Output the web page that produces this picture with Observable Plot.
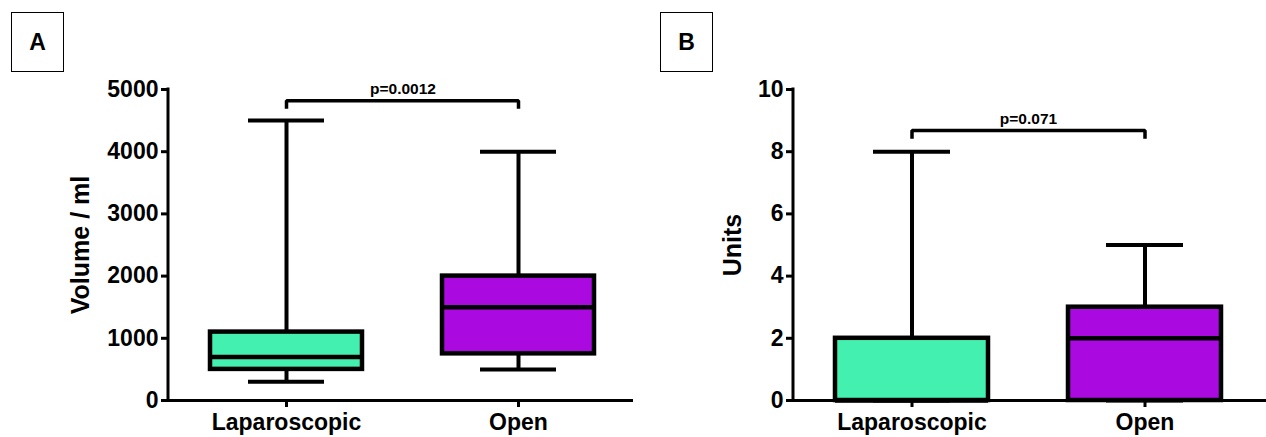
<!DOCTYPE html>
<html>
<head>
<meta charset="utf-8">
<script src="https://cdn.jsdelivr.net/npm/d3@7"></script>
<script src="https://cdn.jsdelivr.net/npm/@observablehq/plot@0.6"></script>
<style>
  html, body { margin: 0; padding: 0; background: #fff; }
  #wrap { position: relative; width: 1266px; height: 437px; display: flex; }
  .panel-label {
    position: absolute; top: 12px; width: 51px; height: 58px;
    border: 1.5px solid #000; background: #fff;
    font: bold 23px "Liberation Sans", Arial, sans-serif;
    display: flex; align-items: center; justify-content: center;
  }
</style>
</head>
<body>
<div id="wrap"></div>
<script>
// ---- data ----
const groups = ["Laparoscopic", "Open"];
const groupColors = ["#43f0af", "#aa0ae0"];

// Panel A: Volume / ml (box & whiskers: min, Q1, median, Q3, max)
const volMin = [300, 500];
const volQ1 = [500, 750];
const volMed = [700, 1500];
const volQ3 = [1100, 2000];
const volMax = [4500, 4000];
const volTicks = [0, 1000, 2000, 3000, 4000, 5000];
const volBracket = [4690, 4820];
const volP = "p=0.0012";

// Panel B: Units
const unitsMin = [0, 0];
const unitsQ1 = [0, 0];
const unitsMed = [0, 2];
const unitsQ3 = [2, 3];
const unitsMax = [8, 5];
const unitsTicks = [0, 2, 4, 6, 8, 10];
const unitsBracket = [8.42, 8.68];
const unitsP = "p=0.071";

function table(mn, q1, md, q3, mx) {
  return groups.map((g, i) => ({group: g, min: mn[i], q1: q1[i], med: md[i], q3: q3[i], max: mx[i]}));
}

function leftAxisLine(sw) {
  return (index, scales, values, dims) => {
    const ns = "http://www.w3.org/2000/svg";
    const l = document.createElementNS(ns, "line");
    l.setAttribute("x1", dims.marginLeft);
    l.setAttribute("x2", dims.marginLeft);
    l.setAttribute("y1", dims.marginTop - 1.5);
    l.setAttribute("y2", dims.height - dims.marginBottom);
    l.setAttribute("stroke", "#000");
    l.setAttribute("stroke-width", sw);
    return l;
  };
}

function panel({data, yMax, ticks, title, titleDx, marginLeft, xRange, bracket, pText}) {
  const br = [
    {group: groups[0], v: bracket[0]},
    {group: groups[0], v: bracket[1]},
    {group: groups[1], v: bracket[1]},
    {group: groups[1], v: bracket[0]}
  ];
  return Plot.plot({
    width: 633,
    height: 437,
    marginLeft,
    marginRight: 0,
    marginTop: 89,
    marginBottom: 37,
    style: {fontFamily: "'Liberation Sans', Arial, sans-serif", fontWeight: "bold", fontSize: "23px", background: "#fff", overflow: "visible"},
    x: {type: "band", domain: groups, range: xRange, paddingInner: 0.3433, paddingOuter: 0, align: 0.5},
    y: {domain: [0, yMax], nice: false},
    color: {domain: groups, range: groupColors},
    marks: [
      Plot.axisY({ticks, tickFormat: d => String(d), tickSize: 7, tickPadding: 3, strokeWidth: 3, fontSize: 23, fontWeight: "bold", label: null}),
      Plot.axisX({tickSize: 7, tickPadding: 6, strokeWidth: 3, fontSize: 23, fontWeight: "bold", label: null}),
      // whiskers
      Plot.ruleX(data, {x: "group", y1: "q3", y2: "max", stroke: "#000", strokeWidth: 4}),
      Plot.ruleX(data, {x: "group", y1: "min", y2: "q1", stroke: "#000", strokeWidth: 4}),
      // boxes
      Plot.barY(data, {x: "group", y1: "q1", y2: "q3", fill: "group", stroke: "#000", strokeWidth: 4.5}),
      // medians
      Plot.tickY(data, {x: "group", y: "med", stroke: "#000", strokeWidth: 4.5}),
      // caps
      Plot.tickY(data, {x: "group", y: "max", stroke: "#000", strokeWidth: 4, insetLeft: 38, insetRight: 38}),
      Plot.tickY(data, {x: "group", y: "min", stroke: "#000", strokeWidth: 4, insetLeft: 38, insetRight: 38}),
      // axis lines
      Plot.ruleY([0], {stroke: "#000", strokeWidth: 3}),
      leftAxisLine(3),
      // significance bracket
      Plot.line(br, {x: "group", y: "v", stroke: "#000", strokeWidth: 3.5, strokeLinejoin: "miter", strokeLinecap: "butt"}),
      Plot.text([{v: bracket[1], label: pText}], {x: () => groups[0], y: "v", text: "label", dx: 233 / 2, dy: -12, fontSize: 15.5, fontWeight: "bold", lineAnchor: "middle", fill: "#000"}),
      // y title
      Plot.text([title], {frameAnchor: "left", text: d => d, rotate: -90, dx: titleDx, fontSize: 25, fontWeight: "bold", lineAnchor: "middle", textAnchor: "middle", fill: "#000"})
    ]
  });
}

const wrap = document.getElementById("wrap");
const a = panel({
  data: table(volMin, volQ1, volMed, volQ3, volMax),
  yMax: 5000, ticks: volTicks, title: "Volume / ml", titleDx: -88,
  marginLeft: 168, xRange: [209.5, 595.5], bracket: volBracket, pText: volP
});
const b = panel({
  data: table(unitsMin, unitsQ1, unitsMed, unitsQ3, unitsMax),
  yMax: 10, ticks: unitsTicks, title: "Units", titleDx: -61,
  marginLeft: 160, xRange: [201.5, 588.5], bracket: unitsBracket, pText: unitsP
});
wrap.appendChild(a);
wrap.appendChild(b);

for (const [txt, left] of [["A", 11], ["B", 660]]) {
  const d = document.createElement("div");
  d.className = "panel-label";
  d.style.left = left + "px";
  d.textContent = txt;
  wrap.appendChild(d);
}
</script>
</body>
</html>
